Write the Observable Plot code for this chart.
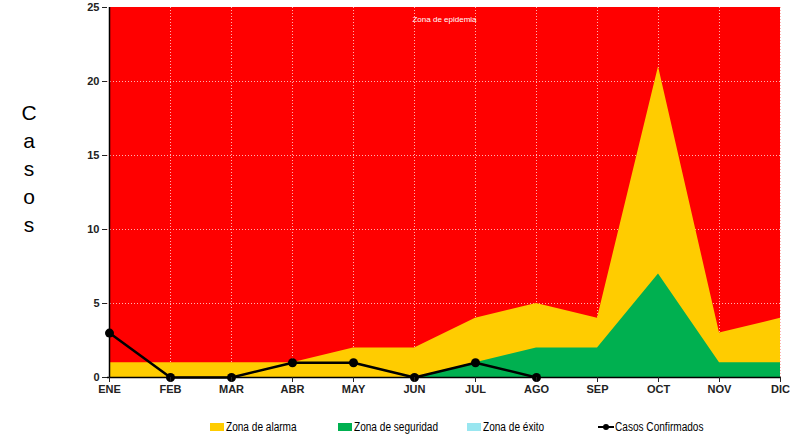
<!DOCTYPE html>
<html>
<head>
<meta charset="utf-8">
<script src="https://cdn.jsdelivr.net/npm/d3@7"></script>
<script src="https://cdn.jsdelivr.net/npm/@observablehq/plot@0.6"></script>
<style>
  body { margin: 0; background: #fff; font-family: "Liberation Sans", Arial, sans-serif; }
  #wrap { position: relative; width: 796px; }
  #ylabel { position: absolute; left: 20px; top: 99px; font-family: "Liberation Sans", Arial, sans-serif; font-size: 21px; line-height: 28px; text-align: center; width: 18px; }
  .item { position: absolute; display: flex; align-items: center; font-size: 12px; }
  .sw { width: 14px; height: 8px; margin-right: 2px; flex: none; }
  .lt { display: inline-block; transform: scaleX(0.84); transform-origin: left center; white-space: nowrap; }
</style>
</head>
<body>
<div id="wrap">
  <div id="ylabel">C<br>a<br>s<br>o<br>s</div>
  <div id="chart"></div>
  <div id="legend" style="position:relative;width:796px;height:33px;"></div>
</div>
<script>
const meses = ["ENE","FEB","MAR","ABR","MAY","JUN","JUL","AGO","SEP","OCT","NOV","DIC"];
const zonaEpidemia = [25,25,25,25,25,25,25,25,25,25,25,25];
const zonaAlarma = [1,1,1,1,2,2,4,5,4,21,3,4];
const zonaSeguridad = [null,null,null,null,null,null,1,2,2,7,1,1];
const zonaExito = [0,0,0,0,0,0,0,0,0,0,0,0];
const casosConfirmados = [3,0,0,1,1,0,1,0,null,null,null,null];
const yTicks = [0,5,10,15,20,25];

const rows = meses.map((m,i)=>({mes:m, epi:zonaEpidemia[i], ala:zonaAlarma[i], seg:zonaSeguridad[i], exi:zonaExito[i], casos:casosConfirmados[i]}));

const font = '"Liberation Sans Narrow", "Liberation Sans", Arial, sans-serif';

const chart = Plot.plot({
  width: 796,
  height: 405,
  marginLeft: 107,
  marginRight: 15,
  marginTop: 7,
  marginBottom: 28,
  style: {fontFamily: font, fontSize: "11px", fontWeight: "bold", color: "#222", background: "#fff"},
  x: {type: "point", domain: meses, padding: 0, label: null},
  y: {domain: [0,25], ticks: yTicks, label: null},
  marks: [
    Plot.areaY(rows, {x: "mes", y: "epi", fill: "#FF0000", curve: "linear"}),
    Plot.ruleX(meses, {stroke: "#ffb3b3", strokeDasharray: "1,2", strokeWidth: 1}),
    Plot.ruleY(yTicks.filter(d=>d>0 && d<25), {stroke: "#ffb3b3", strokeDasharray: "1,2", strokeWidth: 1}),
    Plot.areaY(rows, {x: "mes", y: "ala", fill: "#FFCC00"}),
    Plot.areaY(rows, {x: "mes", y: "seg", fill: "#00B050"}),
    Plot.areaY(rows, {x: "mes", y: "exi", fill: "#99E6F0"}),
    Plot.text(["Zona de epidemia"], {frameAnchor: "top", dy: 9, fill: "white", fontSize: 8, fontWeight: "normal", fontFamily: font}),
    Plot.ruleX([meses[0]], {stroke: "black", strokeWidth: 1.5}),
    Plot.ruleY([0], {stroke: "black", strokeWidth: 1.5}),
    Plot.lineY(rows, {x: "mes", y: "casos", stroke: "black", strokeWidth: 2.5}),
    Plot.dot(rows.filter(d=>d.casos!=null), {x: "mes", y: "casos", fill: "black", r: 4.5}),
    Plot.axisX({tickSize: 5, tickPadding: 3, fontSize: 11, fontWeight: "bold", fontFamily: font}),
    Plot.axisY({ticks: yTicks, tickSize: 5, tickPadding: 3, fontSize: 11, fontWeight: "bold", fontFamily: font})
  ]
});
document.getElementById("chart").appendChild(chart);

const legendItems = [
  {label: "Zona de alarma", color: "#FFCC00", x: 210, type: "sw"},
  {label: "Zona de seguridad", color: "#00B050", x: 338, type: "sw"},
  {label: "Zona de éxito", color: "#99E6F0", x: 467, type: "sw"},
  {label: "Casos Confirmados", color: "black", x: 598, type: "line"}
];
const leg = document.getElementById("legend");
for (const it of legendItems) {
  const d = document.createElement("div");
  d.className = "item";
  d.style.left = it.x + "px";
  d.style.top = "15px";
  if (it.type === "sw") {
    d.innerHTML = `<span class="sw" style="background:${it.color}"></span><span class="lt">${it.label}</span>`;
  } else {
    d.innerHTML = `<svg width="16" height="8" style="margin-right:1px;flex:none"><line x1="0" y1="4" x2="16" y2="4" stroke="black" stroke-width="2"/><circle cx="8" cy="4" r="3" fill="black"/></svg><span class="lt">${it.label}</span>`;
  }
  leg.appendChild(d);
}
</script>
</body>
</html>
